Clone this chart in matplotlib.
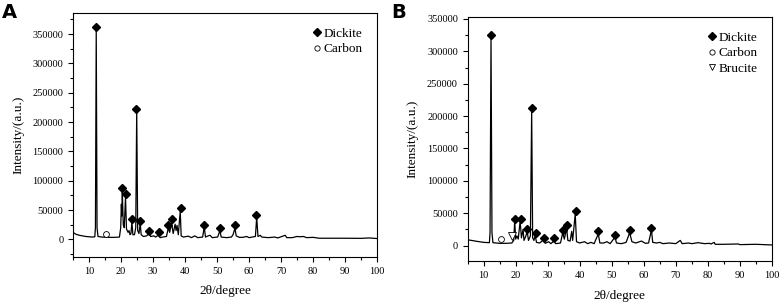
import matplotlib
matplotlib.use("Agg")
import matplotlib.pyplot as plt
from matplotlib.ticker import MultipleLocator

plt.rcParams['font.family'] = ['Liberation Serif', 'DejaVu Serif']

# ---- Panel A: XRD trace (2theta, intensity) ----
tt_a = [5.0, 6, 7, 8, 9, 10, 11, 11.8, 12.0, 12.25, 12.5, 12.8, 14, 16, 18, 19.5,
        19.9, 20.1, 20.25, 20.4, 20.7, 21.0, 21.4, 21.7, 22.2, 22.5, 22.8, 23.1,
        23.4, 23.7, 24.2, 24.6, 24.9, 25.2, 25.6, 26.0, 26.3, 27, 28, 28.8, 29.2,
        30.3, 30.8, 31.6, 32.2, 33, 34.2, 34.8, 35.2, 35.8, 36.3, 36.9, 37.2, 37.5,
        37.9, 38.5, 38.8, 39.5, 41, 42, 43, 44, 45.5, 46, 46.4, 47.2, 47.8, 48.5,
        50.2, 50.9, 51.3, 53, 54.5, 55, 55.6, 56, 57, 58, 59.3, 60, 62, 62.4, 62.8,
        63.5, 64, 66, 68, 69, 71.3, 71.8, 73.5, 75, 76, 77, 78, 80, 82, 85, 90, 95,
        97.5, 100]
int_a = [12000, 8500, 7000, 6000, 5000, 4500, 4000, 4500, 20000, 358000, 20000, 5000,
         4000, 3500, 3500, 4000, 20000, 60000, 40000, 82000, 25000, 20000, 72000,
         18000, 12000, 15000, 8000, 10000, 30000, 8000, 8000, 20000, 220000, 15000,
         10000, 27000, 8000, 5000, 6000, 11000, 5000, 6000, 4000, 7000, 3000, 4000,
         5000, 20000, 12000, 28000, 10000, 26000, 15000, 24000, 8000, 48000, 6000,
         4000, 5500, 3000, 6000, 3000, 4000, 21000, 4000, 6000, 7000, 3000, 4000,
         15000, 4000, 3000, 4000, 8000, 19000, 6000, 3500, 3500, 5000, 3000, 5000,
         38000, 5000, 7000, 4000, 3000, 4000, 2500, 7000, 3000, 3000, 5000, 4500,
         5000, 3000, 3500, 2000, 2000, 2000, 1800, 2500, 1500]

dick_a_x = [12.2, 20.3, 21.6, 23.4, 24.8, 26.0, 28.75, 32.0, 34.6, 35.8, 38.6, 45.9,
            50.8, 55.6, 62.3]
dick_a_y = [362000, 88000, 77000, 34500, 223000, 31000, 14700, 12000, 24400, 35000,
            52700, 25000, 18700, 23800, 41400]
carb_a_x = [15.4]
carb_a_y = [9700]

# ---- Panel B ----
tt_b = [5, 8, 10, 11.8, 12.0, 12.3, 12.6, 12.9, 15, 17, 18.8, 19.4, 19.7, 20.0, 20.4,
        20.8, 21.4, 21.8, 22.3, 22.6, 23.2, 23.6, 24, 24.6, 25.0, 25.3, 25.7, 26.1,
        26.5, 27.5, 28.7, 29.2, 30.3, 31, 31.9, 32.5, 34, 34.7, 35.2, 35.9, 36.3, 37,
        37.5, 37.8, 38.6, 39, 40, 41.5, 42.5, 43.5, 44.5, 45.8, 46.3, 47.5, 48.5,
        49.5, 51, 51.5, 53, 54.5, 55.6, 56.3, 57.5, 59.3, 60.5, 61.5, 62.4, 62.8, 64,
        65, 66, 68, 70, 71.4, 72, 74, 75, 77, 79, 80.5, 81, 82, 82.3, 85, 89.5, 90,
        95, 100]
int_b = [9000, 6500, 5000, 4500, 20000, 322000, 20000, 4500, 3500, 3500, 4000, 8000,
         38000, 10000, 15000, 10000, 38000, 12000, 25000, 8000, 15000, 22000, 8000,
         15000, 208000, 12000, 8000, 16000, 5000, 4000, 9000, 3500, 6000, 3000, 7000,
         3000, 4000, 20000, 10000, 27000, 8000, 7000, 22000, 8000, 49000, 6000, 4000,
         6000, 3000, 5000, 3000, 18000, 4000, 4000, 6000, 3000, 13000, 4000, 3000,
         5000, 20000, 6000, 4000, 7000, 3500, 4000, 24000, 5000, 4000, 5000, 3000,
         4000, 3000, 8000, 3000, 4000, 3000, 4500, 3000, 3500, 2500, 5000, 2000, 2000,
         2500, 1500, 2000, 1000]

dick_b_x = [12.3, 19.8, 21.7, 23.6, 25.0, 26.2, 28.75, 31.9, 34.8, 36.1, 38.75, 45.8,
            51.05, 55.6, 62.4]
dick_b_y = [325000, 41000, 41000, 25800, 212000, 19800, 12200, 11100, 24800, 31400,
            53200, 22300, 16700, 23800, 27800]
carb_b_x = [15.5]
carb_b_y = [9600]
bruc_b_x = [18.9]
bruc_b_y = [14700]


def style_axes(ax, ylim):
    ax.set_xlim(5, 100)
    ax.xaxis.set_minor_locator(MultipleLocator(5))
    ax.yaxis.set_minor_locator(MultipleLocator(25000))
    ax.set_yticks([0, 50000, 100000, 150000, 200000, 250000, 300000, 350000])
    ax.set_xticks([10, 20, 30, 40, 50, 60, 70, 80, 90, 100])
    ax.set_ylim(*ylim)
    ax.tick_params(which='both', direction='out', labelsize=7.5, width=0.8)
    ax.tick_params(which='major', length=3.5)
    ax.tick_params(which='minor', length=2)
    for s in ax.spines.values():
        s.set_linewidth(0.8)
    ax.set_xlabel("2θ/degree", fontsize=9.5, labelpad=7)
    ax.set_ylabel("Intensity/(a.u.)", fontsize=9.5, labelpad=6)


fig = plt.figure(figsize=(7.82, 3.04), dpi=100)
ax1 = fig.add_axes([0.0934, 0.1546, 0.3887, 0.8026])
ax2 = fig.add_axes([0.598, 0.141, 0.389, 0.803])

mk = dict(linestyle='none', color='black')

ax1.plot(tt_a, int_a, color='black', lw=0.9)
ax1.plot(dick_a_x, dick_a_y, marker='D', ms=4, label='Dickite', **mk)
ax1.plot(carb_a_x, carb_a_y, marker='o', ms=4.2, mfc='white', mew=0.6,
         label='Carbon', **mk)
style_axes(ax1, (-30000, 386000))

ax2.plot(tt_b, int_b, color='black', lw=0.9)
ax2.plot(dick_b_x, dick_b_y, marker='D', ms=4, label='Dickite', **mk)
ax2.plot(carb_b_x, carb_b_y, marker='o', ms=4.2, mfc='white', mew=0.6,
         label='Carbon', **mk)
ax2.plot(bruc_b_x, bruc_b_y, marker='v', ms=5.5, mfc='white', mew=0.6,
         label='Brucite', **mk)
style_axes(ax2, (-24000, 353000))

for ax in (ax1, ax2):
    ax.legend(loc='upper right', frameon=False, fontsize=9.5, handlelength=0.6,
              handletextpad=0.2, labelspacing=0.25, borderaxespad=0.7,
              markerscale=0.9)

fig.text(0.003, 0.99, "A", fontsize=14, fontweight='bold', va='top',
         family='DejaVu Sans')
fig.text(0.5005, 0.99, "B", fontsize=14, fontweight='bold', va='top',
         family='DejaVu Sans')

fig.savefig("out.png", dpi=100)
